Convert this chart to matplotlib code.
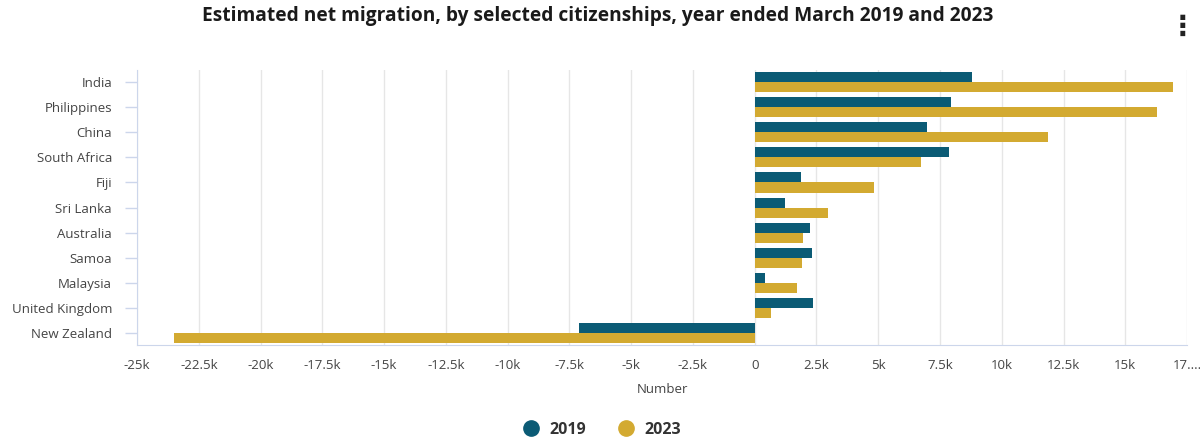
import numpy as np
import matplotlib.pyplot as plt
from matplotlib.ticker import FixedLocator, FuncFormatter
from matplotlib.lines import Line2D

countries = ['India', 'Philippines', 'China', 'South Africa', 'Fiji', 'Sri Lanka',
             'Australia', 'Samoa', 'Malaysia', 'United Kingdom', 'New Zealand']
net_2019 = [8790, 7950, 6960, 7860, 1880, 1240, 2240, 2300, 410, 2350, -7130]
net_2023 = [16920, 16280, 11890, 6750, 4810, 2970, 1970, 1920, 1720, 670, -23520]

teal = '#0b5b75'
gold = '#d3aa31'
axis_col = '#ccd6eb'

plt.rcParams['font.family'] = ['Open Sans', 'DejaVu Sans']

fig = plt.figure(figsize=(12, 4.43), dpi=100)
ax = fig.add_axes([0.1142, 0.2212, 0.8750, 0.6208])

y = np.arange(len(countries))
h = 0.4
ax.barh(y - h / 2, net_2019, height=h, color=teal, label='2019', zorder=3)
ax.barh(y + h / 2, net_2023, height=h, color=gold, label='2023', zorder=3)

ax.set_ylim(len(countries) - 0.5, -0.5)
ax.set_xlim(-25000, 17500)
ax.set_yticks(y)
ax.set_yticklabels(countries, fontsize=9.5, color='#444444')
ax.tick_params(axis='y', length=8.6, width=1, color=axis_col, pad=9.4)

xt = np.arange(-25000, 17501, 2500)
ax.xaxis.set_major_locator(FixedLocator(xt))


def fmt(v, pos):
    if v == 0:
        return '0'
    if v == 17500:
        return '17....'
    return f'{v / 1000:g}k'


ax.xaxis.set_major_formatter(FuncFormatter(fmt))
ax.tick_params(axis='x', length=0, pad=10, labelsize=9.5, labelcolor='#444444')
ax.grid(axis='x', color='#e6e6e6', linewidth=1, zorder=0)
ax.set_xlabel('Number', fontsize=9.5, color='#444444', labelpad=8)

for s in ['top', 'right']:
    ax.spines[s].set_visible(False)
ax.spines['left'].set_color(axis_col)
ax.spines['bottom'].set_color(axis_col)

fig.text(0.498, 0.963, 'Estimated net migration, by selected citizenships, year ended March 2019 and 2023',
         ha='center', va='center', fontsize=13.8, fontweight='bold', color='#1a1a1a')
fig.text(0.985, 0.94, '\u22ee', ha='center', va='center', fontsize=20,
         fontweight='bold', color='#222222', family='DejaVu Sans')

handles = [Line2D([], [], marker='o', linestyle='', markersize=11, color=teal),
           Line2D([], [], marker='o', linestyle='', markersize=11, color=gold)]
leg = fig.legend(handles, ['2019', '2023'], loc='center', bbox_to_anchor=(0.4985, 0.03),
                 ncol=2, frameon=False, handletextpad=0.15, columnspacing=1.5,
                 prop={'size': 11.5, 'weight': 'bold'})
for t in leg.get_texts():
    t.set_color('#333333')

fig.savefig('out.png', dpi=100)
